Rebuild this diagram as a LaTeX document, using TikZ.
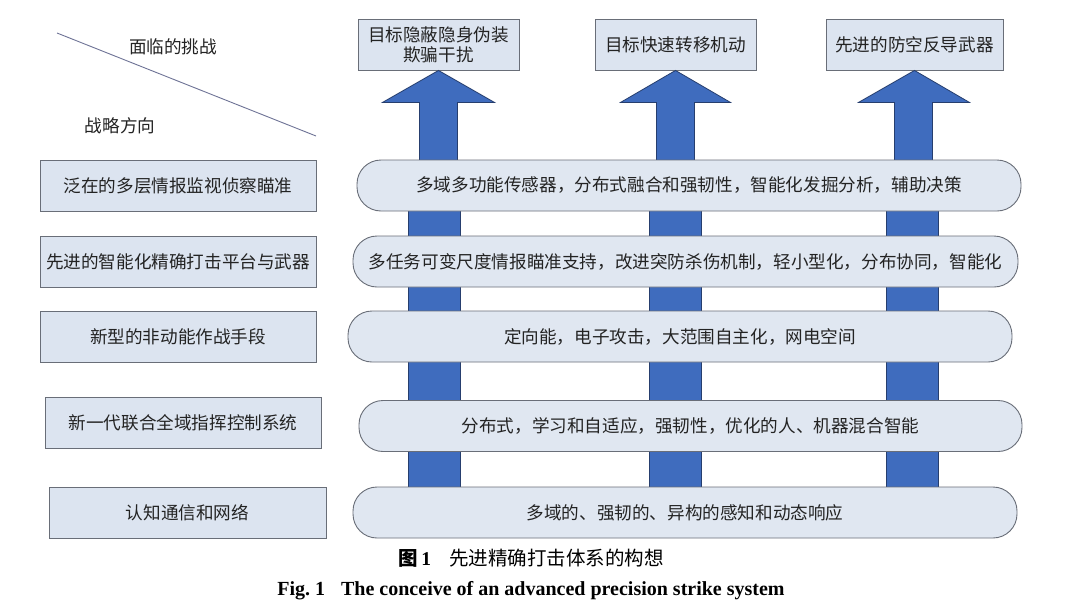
\documentclass[tikz,border=0pt]{standalone}
\usepackage{fontspec}
\setmainfont{Liberation Serif}
\newfontfamily\cjk{Noto Sans CJK SC}
\definecolor{boxfill}{RGB}{220,228,240}
\definecolor{pillfill}{RGB}{224,231,241}
\definecolor{boxline}{RGB}{105,110,120}
\definecolor{arrowfill}{RGB}{63,108,190}
\definecolor{arrowline}{RGB}{38,62,110}
\definecolor{txt}{RGB}{35,35,35}
\definecolor{diag}{RGB}{110,115,150}
\begin{document}
\begin{tikzpicture}[x=1pt,y=-1pt,
  cjktext/.style={font=\cjk\fontsize{17.6}{21}\selectfont, text=txt},
  lbox/.style={cjktext, draw=boxline, fill=boxfill, line width=0.9pt, minimum height=51pt, inner sep=0pt},
  tbox/.style={cjktext, draw=boxline, fill=boxfill, line width=0.9pt, minimum height=51pt, inner sep=0pt, align=center},
  pill/.style={cjktext, draw=boxline, fill=pillfill, line width=0.9pt, minimum height=51pt, inner sep=0pt, rounded corners=24pt},
  bigarrow/.style={fill=arrowfill, draw=arrowline, line width=0.8pt, line join=miter},
  seg/.style={fill=arrowfill, draw=arrowline, line width=0.8pt},
  plain/.style={cjktext, inner sep=0pt}]
\useasboundingbox (0,0) rectangle (1080,611);
\fill[white] (0,0) rectangle (1080,611);

% top challenge boxes
\node[tbox, minimum width=161pt] (t1) at (438.5,44.5) {目标隐蔽隐身伪装\\[-1pt]欺骗干扰};
\node[tbox, minimum width=161pt] (t2) at (675.5,44.5) {目标快速转移机动};
\node[tbox, minimum width=177pt] (t3) at (914.5,44.5) {先进的防空反导武器};

% big arrows (head + narrow shaft)
\draw[bigarrow] (t1.south) -- ++(56,32) -- ++(-37,0) -- ++(0,64) -- ++(-38,0) -- ++(0,-64) -- ++(-37,0) -- cycle;
\draw[bigarrow] (t2.south) -- ++(55,32) -- ++(-36,0) -- ++(0,64) -- ++(-38,0) -- ++(0,-64) -- ++(-36,0) -- cycle;
\draw[bigarrow] (t3.south) -- ++(55,32) -- ++(-37,0) -- ++(0,64) -- ++(-38,0) -- ++(0,-64) -- ++(-36,0) -- cycle;

% shaft segments between pills
\foreach \xa/\xb in {408/460, 649/701, 886/938}{
  \draw[seg] (\xa,206) rectangle (\xb,241);
  \draw[seg] (\xa,282) rectangle (\xb,316);
  \draw[seg] (\xa,357) rectangle (\xb,406);
  \draw[seg] (\xa,447) rectangle (\xb,492);
}

% pills
\node[pill, minimum width=664pt] (p1) at (689,185.5) {多域多功能传感器，分布式融合和强韧性，智能化发掘分析，辅助决策};
\node[pill, minimum width=665pt] (p2) at (685.5,261.5) {多任务可变尺度情报瞄准支持，改进突防杀伤机制，轻小型化，分布协同，智能化};
\node[pill, minimum width=664pt] (p3) at (680,336.5) {定向能，电子攻击，大范围自主化，网电空间};
\node[pill, minimum width=663pt] (p4) at (690.5,426) {分布式，学习和自适应，强韧性，优化的人、机器混合智能};
\node[pill, minimum width=664pt] (p5) at (685,512.5) {多域的、强韧的、异构的感知和动态响应};

% left strategy boxes
\node[lbox, minimum width=276pt] (l1) at (178,185.5) {泛在的多层情报监视侦察瞄准};
\node[lbox, minimum width=276pt] (l2) at (178,261.5) {先进的智能化精确打击平台与武器};
\node[lbox, minimum width=276pt] (l3) at (178,336.5) {新型的非动能作战手段};
\node[lbox, minimum width=276pt] (l4) at (183,422.5) {新一代联合全域指挥控制系统};
\node[lbox, minimum width=277pt] (l5) at (187.5,512.5) {认知通信和网络};

% header with diagonal
\coordinate (d1) at (57,33);
\coordinate (d2) at (316,136);
\draw[diag, line width=0.9pt] (d1) -- (d2);
\node[plain] (face) at (173,47) {面临的挑战};
\node[plain] (dir) at (120,126) {战略方向};

% captions
\node[inner sep=0pt, text=black] (cap1) at (531,558) {\fontsize{19.5}{23}\selectfont{\cjk\bfseries 图}\,\textbf{1}\hspace{18pt}{\cjk 先进精确打击体系的构想}};
\node[inner sep=0pt, text=black] (cap2) at (531,591) {\fontsize{20}{24}\selectfont\bfseries Fig.\ 1\hspace{16pt}The conceive of an advanced precision strike system};
\end{tikzpicture}
\end{document}
